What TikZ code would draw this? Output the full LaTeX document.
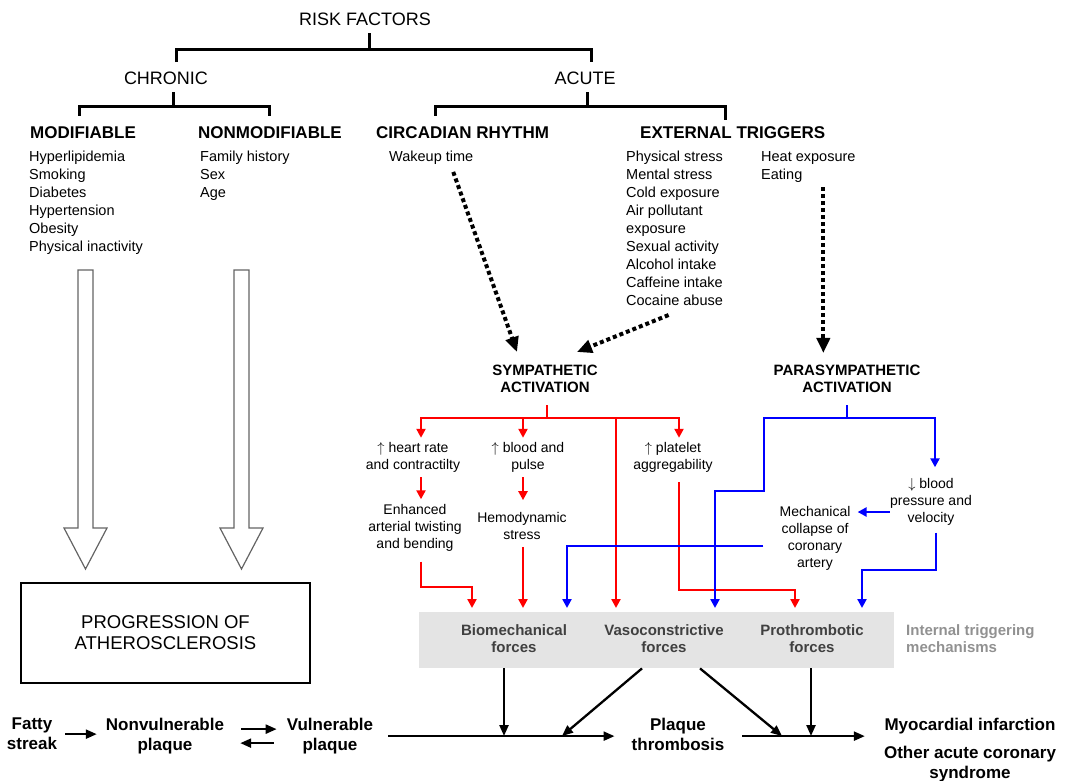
\documentclass[tikz,border=0pt]{standalone}
\usepackage{fontspec}
\setmainfont{Liberation Sans}
\usepackage{tikz}
\usetikzlibrary{positioning,calc}
\usetikzlibrary{arrows.meta}
\definecolor{SymRed}{RGB}{255,0,0}
\definecolor{ParBlue}{RGB}{0,0,255}
\definecolor{BoxGray}{RGB}{228,228,228}
\definecolor{ForceGray}{RGB}{64,64,64}
\definecolor{MechGray}{RGB}{145,145,145}
\definecolor{ShaftGray}{RGB}{100,100,100}
\tikzset{
	rootlbl/.style={inner sep=0pt,font=\fontsize{18}{21}\selectfont,anchor=base},
	hd/.style={inner sep=0pt,font=\bfseries\fontsize{17}{20}\selectfont,anchor=base west},
	list/.style={inner sep=0pt,font=\fontsize{14.5}{18}\selectfont,align=left,anchor=north west},
	act/.style={inner sep=0pt,font=\bfseries\fontsize{15}{17}\selectfont,align=center},
	eff/.style={inner sep=0pt,font=\fontsize{14}{17}\selectfont,align=center},
	force/.style={inner sep=0pt,font=\bfseries\fontsize{15}{17}\selectfont,align=center,text=ForceGray,anchor=north},
	stage/.style={inner sep=0pt,font=\bfseries\fontsize{17}{20}\selectfont,align=center,anchor=north},
	brk/.style={draw=black,line width=3pt},
	rarr/.style={draw=SymRed,line width=2.5pt,-{Triangle[length=9pt,width=9pt]}},
	barr/.style={draw=ParBlue,line width=2.5pt,-{Triangle[length=9pt,width=9pt]}},
	dots/.style={draw=black,line width=4pt,dash pattern=on 4pt off 3pt,-{Triangle[length=15pt,width=13pt]}},
	blk/.style={draw=black,line width=2.3pt,-{Triangle[length=11pt,width=9pt]}},
	hollow/.style={draw=ShaftGray,line width=1.2pt,fill=white},
}
\begin{document}
\begin{tikzpicture}[x=1pt,y=-1pt]
	\useasboundingbox (0,0) rectangle (1073,780);
	\node[rootlbl] (rf) at (365,25) {RISK FACTORS};
	\node[rootlbl] (chr) at (166,84) {CHRONIC};
	\node[rootlbl] (acu) at (585,84) {ACUTE};
	\node[hd] (mod) at (30,138) {MODIFIABLE};
	\node[hd] (nmod) at (198,138) {NONMODIFIABLE};
	\node[hd] (circ) at (376,138) {CIRCADIAN RHYTHM};
	\node[hd] (exth) at (640,138) {EXTERNAL TRIGGERS};
	\coordinate (rfj) at (369,49);
	\coordinate (chj) at (173,106);
	\coordinate (acj) at (587,106);
	\draw[brk] ([xshift=4pt,yshift=-8pt]rf.south) -- (rfj);
	\draw[brk] ([xshift=10pt,yshift=9pt]chr.north) |- (rfj) -| ([xshift=6pt,yshift=9pt]acu.north);
	\draw[brk] ([xshift=7pt,yshift=-8pt]chr.south) -- (chj);
	\draw[brk] ([xshift=-4pt,yshift=10pt]mod.north) |- (chj) -| ([yshift=10pt]nmod.north);
	\draw[brk] ([xshift=2pt,yshift=-8pt]acu.south) -- (acj);
	\draw[brk] ([xshift=-27pt,yshift=10pt]circ.north) |- (acj) -| ([xshift=-7pt,yshift=6pt]exth.north);
	\node[list] (modl) at (29,151) {Hyperlipidemia\\Smoking\\Diabetes\\Hypertension\\Obesity\\Physical inactivity};
	\node[list] (nmodl) at (200,151) {Family history\\Sex\\Age};
	\node[list] (wake) at (389,151) {Wakeup time};
	\node[list] (extl) at (626,151) {Physical stress\\Mental stress\\Cold exposure\\Air pollutant\\exposure\\Sexual activity\\Alcohol intake\\Caffeine intake\\Cocaine abuse};
	\node[list] (heat) at (761,151) {Heat exposure\\Eating};
	\foreach \cx in {85.5,241.5}
		\draw[hollow] (\cx-7.5,270) -- (\cx+7.5,270) -- (\cx+7.5,528) -- (\cx+21.5,528) -- (\cx,569) -- (\cx-21.5,528) -- (\cx-7.5,528) -- cycle;
	\node[draw,line width=2.5pt,minimum width=289pt,minimum height=100pt,align=center,font=\fontsize{18.5}{21}\selectfont] (prog) at (165.5,633) {PROGRESSION OF\\ATHEROSCLEROSIS};
	\node[act] (sym) at (545,379) {SYMPATHETIC\\ACTIVATION};
	\node[act] (para) at (847,379) {PARASYMPATHETIC\\ACTIVATION};
	\draw[dots] ([xshift=22pt,yshift=-7pt]wake.south) -- ([xshift=-28pt,yshift=13pt]sym.north);
	\draw[dots] ([xshift=-6pt,yshift=-9pt]extl.south) -- ([xshift=32pt,yshift=13pt]sym.north);
	\draw[dots] ([xshift=15pt,yshift=-5pt]heat.south) -- ([xshift=15pt,yshift=12pt]heat.south |- para.north);
	\node[eff] (hr) at (413,457) {$\uparrow$ heart rate\\and contractilty};
	\node[eff] (bp) at (528,457) {$\uparrow$ blood and\\pulse};
	\node[eff] (plt) at (673,457) {$\uparrow$ platelet\\aggregability};
	\node[eff] (enh) at (415,528) {Enhanced\\arterial twisting\\and bending};
	\node[eff] (hem) at (522,526) {Hemodynamic\\stress};
	\node[eff] (bpv) at (931,502) {$\downarrow$ blood\\pressure and\\velocity};
	\node[eff] (mech) at (815,538) {Mechanical\\collapse of\\coronary\\artery};
	\node[fill=BoxGray,minimum width=475pt,minimum height=56pt,inner sep=0pt,anchor=north west] (trig) at (419,612) {};
	\node[force] (bio) at (514,624) {Biomechanical\\forces};
	\node[force] (vaso) at (664,624) {Vasoconstrictive\\forces};
	\node[force] (proth) at (812,624) {Prothrombotic\\forces};
	\node[force,anchor=north west,text=MechGray,align=left] (itm) at (906,624) {Internal triggering\\mechanisms};
	\coordinate (r1) at (421,418); \coordinate (r2) at (523,418);
	\coordinate (r3) at (616,418); \coordinate (r4) at (679,418);
	\coordinate (eb) at (472,587); \coordinate (pb) at (795,590);
	\draw[rarr,shorten >=4pt] ([xshift=2pt,yshift=-12pt]sym.south) |- (r1) -- (hr.north -| r1);
	\draw[rarr,shorten >=4pt] (sym.south |- r1) -| (plt.north -| r4);
	\draw[rarr,shorten >=4pt] (r2) -- (bp.north -| r2);
	\draw[rarr,shorten >=4pt] (r3) -- (trig.north -| r3);
	\draw[rarr] ([yshift=-5pt]hr.south -| r1) -- ([yshift=5pt]enh.north -| r1);
	\draw[rarr] ([yshift=-5pt]bp.south -| r2) -- ([yshift=12pt]hem.north -| r2);
	\draw[rarr,shorten >=4pt] ([yshift=-10pt]enh.south -| r1) |- (eb) -- (trig.north -| eb);
	\draw[rarr,shorten >=4pt] ([yshift=-7pt]hem.south -| r2) -- (trig.north -| r2);
	\draw[rarr,shorten >=4pt] ([yshift=-10pt]plt.south -| r4) |- (pb) -- (trig.north -| pb);
	\coordinate (b1) at (764,418); \coordinate (b2) at (935,418);
	\coordinate (bk) at (715,491); \coordinate (mk) at (567,546); \coordinate (vk) at (862,570);
	\draw[barr,shorten >=4pt] ([yshift=-12pt]para.south) |- (b1) |- (bk) -- (trig.north -| bk);
	\draw[barr,shorten >=11pt] (para.south |- b1) -| (bpv.north -| b2);
	\draw[barr,shorten >=7pt] ([yshift=-10pt]bpv.west) -- ([yshift=-10pt]bpv.west -| mech.east);
	\draw[barr,shorten >=4pt] ([xshift=-16pt,yshift=-8pt]mech.west) -- (mk) -- (trig.north -| mk);
	\draw[barr,shorten >=4pt] ([xshift=5pt,yshift=-7pt]bpv.south) |- (vk) -- (trig.north -| vk);
	\node[stage] (fat) at (32,718) {Fatty\\streak};
	\node[stage] (non) at (165,718) {Nonvulnerable\\plaque};
	\node[stage] (vul) at (330,718) {Vulnerable\\plaque};
	\node[stage] (thr) at (678,718) {Plaque\\thrombosis};
	\node[stage] (mi) at (970,718) {Myocardial infarction\\[8pt]Other acute coronary\\syndrome};
	\draw[blk] ([xshift=8pt]fat.east) -- ([xshift=-9pt]fat.east -| non.west);
	\draw[blk] ([xshift=17pt,yshift=7pt]non.east) -- ([xshift=-10pt,yshift=7pt]non.east -| vul.west);
	\draw[blk] ([xshift=-13pt,yshift=-7pt]non.east -| vul.west) -- ([xshift=16pt,yshift=-7pt]non.east);
	\draw[blk] ([xshift=15pt]vul.east) -- ([xshift=-17pt]vul.east -| thr.west);
	\draw[blk] ([xshift=18pt]vul.east -| thr.east) -- ([xshift=-19pt]vul.east -| mi.west);
	\coordinate (j1) at (504,736); \coordinate (j2) at (562,736);
	\coordinate (j3) at (782,736); \coordinate (j4) at (811,736);
	\draw[blk] (trig.south -| j1) -- (j1);
	\draw[blk] ([xshift=223pt]trig.south west) -- (j2);
	\draw[blk] ([xshift=281pt]trig.south west) -- (j3);
	\draw[blk] (trig.south -| j4) -- (j4);
\end{tikzpicture}
\end{document}
